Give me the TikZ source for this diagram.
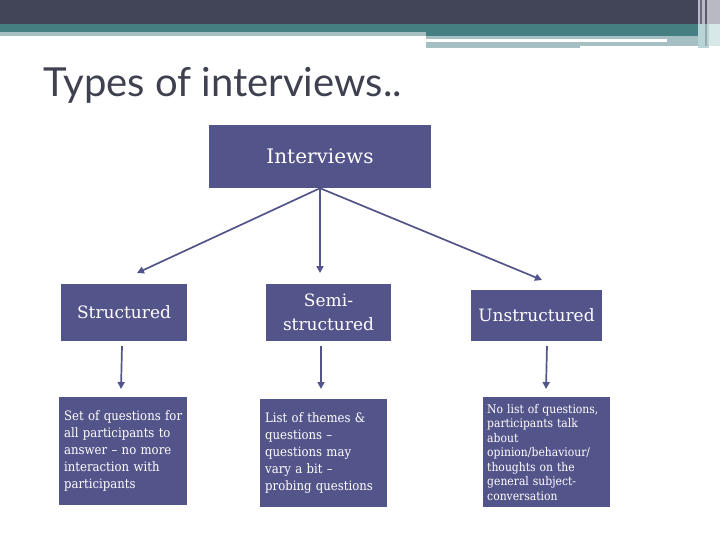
\documentclass[tikz,border=0pt]{standalone}
\usepackage{fontspec}
\setmainfont{DejaVu Serif Condensed}
\newfontfamily\headfont{DejaVu Serif}
\newfontfamily\titlefont{Lato}
\usetikzlibrary{arrows.meta}
\definecolor{boxc}{HTML}{53548A}
\definecolor{darkband}{HTML}{424457}
\definecolor{tealband}{HTML}{457F82}
\definecolor{lightband}{HTML}{A5BFC3}
\definecolor{titlec}{HTML}{3F4150}
\definecolor{edgeA}{HTML}{B9B9C4}
\definecolor{edgeB}{HTML}{6A6A7E}
\definecolor{edgeC}{HTML}{5A5A6E}
\definecolor{edgeD}{HTML}{B8D4D6}
\definecolor{edgeE}{HTML}{D8E8E8}
\definecolor{edgeF}{HTML}{96AAAF}
\tikzset{
  box/.style={fill=boxc, text=white, inner sep=0pt, align=center, font=\headfont\fontsize{17}{24}\selectfont},
  smallbox/.style={fill=boxc, text=white, inner xsep=5pt, inner ysep=0pt, align=left, anchor=north west},
  conn/.style={draw=boxc, line width=1.7pt, -{Triangle[length=7pt,width=7pt]}},
}
\begin{document}
\begin{tikzpicture}[x=1pt,y=-1pt]
\useasboundingbox (0,0) rectangle (720,540);
% header bands
\fill[darkband] (0,0) rectangle (720,24);
\fill[tealband] (0,24) rectangle (698,32);
\fill[tealband] (426,32) rectangle (698,36);
\fill[lightband] (0,32) rectangle (426,36);
\fill[lightband] (426,36) rectangle (667,39);
\fill[lightband] (426,42) rectangle (580,48);
\fill[lightband] (580,42) rectangle (667,46);
\fill[lightband] (667,36) rectangle (698,46);
% right edge stripes
\fill[edgeA] (698,0) rectangle (720,24);
\fill[edgeB] (700,0) rectangle (702,24);
\fill[edgeC] (705,0) rectangle (707,24);
\fill[edgeD] (698,24) rectangle (709,48);
\fill[edgeE] (709,24) rectangle (720,46);
\fill[edgeF] (705,24) rectangle (707,46);
% title
\node[anchor=base west, inner sep=0pt, text=titlec, font=\titlefont\fontsize{40}{44}\selectfont] (title) at (43,97) {Types of interviews..};
% top box
\node[box, minimum width=222pt, minimum height=63pt, font=\headfont\fontsize{20}{24}\selectfont] (int) at (320,156.5) {Interviews};
% middle row
\node[box, minimum width=126pt, minimum height=57pt] (s) at (124,312.5) {Structured};
\node[box, minimum width=125pt, minimum height=57pt] (m) at (328.5,312.5) {Semi-\\structured};
\node[box, minimum width=131pt, minimum height=51pt] (u) at (536.5,315.5) {Unstructured};
% bottom row
\node[smallbox, text width=118pt, minimum height=108pt, font=\fontsize{13}{17}\selectfont] (sd) at (59,397) {Set of questions for\\all participants to\\answer -- no more\\interaction with\\participants};
\node[smallbox, text width=117pt, minimum height=108pt, font=\fontsize{13}{17}\selectfont] (md) at (260,399) {List of themes \&\\questions --\\questions may\\vary a bit --\\probing questions};
\node[smallbox, inner xsep=4pt, text width=119pt, minimum height=110pt, font=\fontsize{12}{14.5}\selectfont] (ud) at (483,397) {No list of questions,\\participants talk\\about\\opinion/behaviour/\\thoughts on the\\general subject-\\conversation};
% arrow coordinates
\coordinate (a1) at (137,273);
\coordinate (a2) at (320,273);
\coordinate (a3) at (542,280);
\coordinate (b1s) at (122,346);
\coordinate (b2s) at (321,346);
\coordinate (b3s) at (547,346);
\coordinate (b1e) at (121,389);
\coordinate (b2e) at (321,389);
\coordinate (b3e) at (546,389);
\draw[conn] (int.south) -- (a1);
\draw[conn] (int.south) -- (a2);
\draw[conn] (int.south) -- (a3);
\draw[conn] (b1s) -- (b1e);
\draw[conn] (b2s) -- (b2e);
\draw[conn] (b3s) -- (b3e);
\end{tikzpicture}
\end{document}
